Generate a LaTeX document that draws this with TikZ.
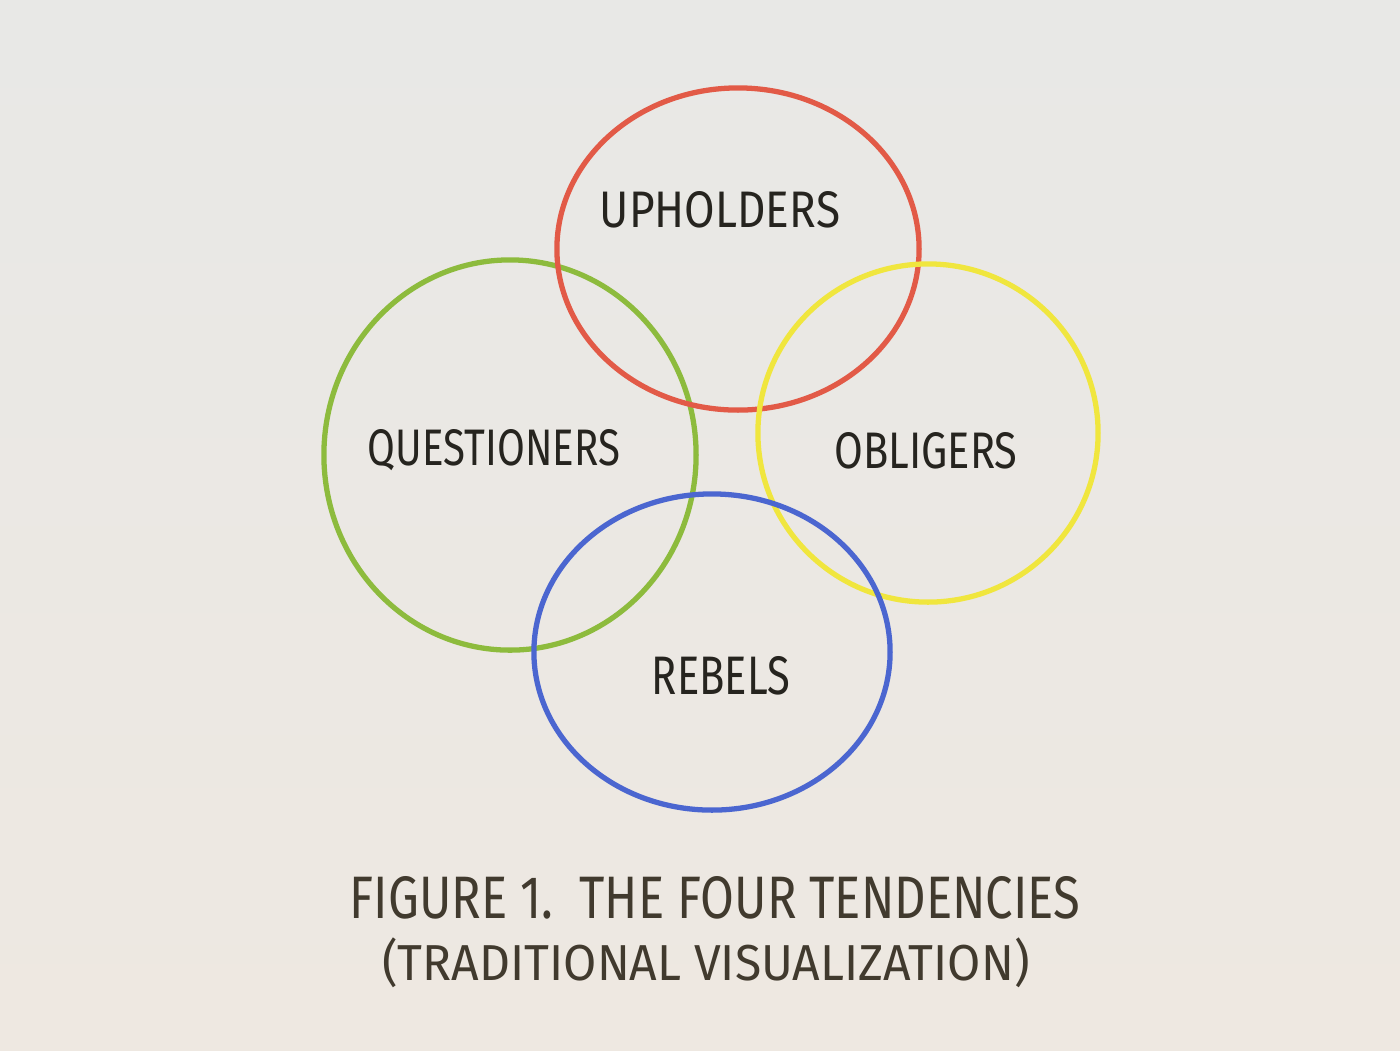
\documentclass[tikz,border=0pt]{standalone}
\usepackage{fontspec}
\setmainfont{Fira Sans}
\usepackage{graphicx}
\usetikzlibrary{shapes.geometric}
\definecolor{bgtop}{HTML}{E8E8E6}
\definecolor{bgbot}{HTML}{EEE8E1}
\definecolor{cred}{HTML}{E25A47}
\definecolor{cgreen}{HTML}{8DBB3D}
\definecolor{cyellow}{HTML}{F0E63E}
\definecolor{cblue}{HTML}{4B66D0}
\definecolor{ink}{HTML}{26241F}
\definecolor{brownink}{HTML}{413A2E}
\tikzset{
  ring/.style={ellipse, draw, line width=1.5pt, inner sep=0pt},
  lbl/.style={text=ink, inner sep=0pt},
  captxt/.style={text=brownink, inner sep=0pt}
}
\begin{document}
\begin{tikzpicture}[x=0.01cm,y=-0.01cm]
\useasboundingbox (0,0) rectangle (1400,1050);
\shade[top color=bgtop, bottom color=bgbot] (0,0) rectangle (1400,1050);
\node[ring, cgreen, minimum width=3.72cm, minimum height=3.9cm] (green) at (510,455) {};
\node[ring, cred, minimum width=3.62cm, minimum height=3.22cm] (red) at (738,249) {};
\node[ring, cyellow, minimum width=3.4cm, minimum height=3.38cm] (yellow) at (928,433) {};
\node[ring, cblue, minimum width=3.56cm, minimum height=3.16cm] (blue) at (712,652) {};
\node[lbl] (up) at (720,210) {\resizebox{2.4cm}{0.36cm}{UPHOLDERS}};
\node[lbl] (qu) at (494,450) {\resizebox{2.52cm}{0.36cm}{QUESTIONERS}};
\node[lbl] (ob) at (926,451) {\resizebox{1.83cm}{0.36cm}{OBLIGERS}};
\node[lbl] (re) at (721,676) {\resizebox{1.38cm}{0.38cm}{REBELS}};
\node[captxt] (c1) at (715,898) {\resizebox{7.3cm}{0.42cm}{FIGURE 1.\ \ THE FOUR TENDENCIES}};
\node[captxt] (c2) at (706,963) {\resizebox*{6.47cm}{0.5cm}{(TRADITIONAL VISUALIZATION)}};
\end{tikzpicture}
\end{document}
